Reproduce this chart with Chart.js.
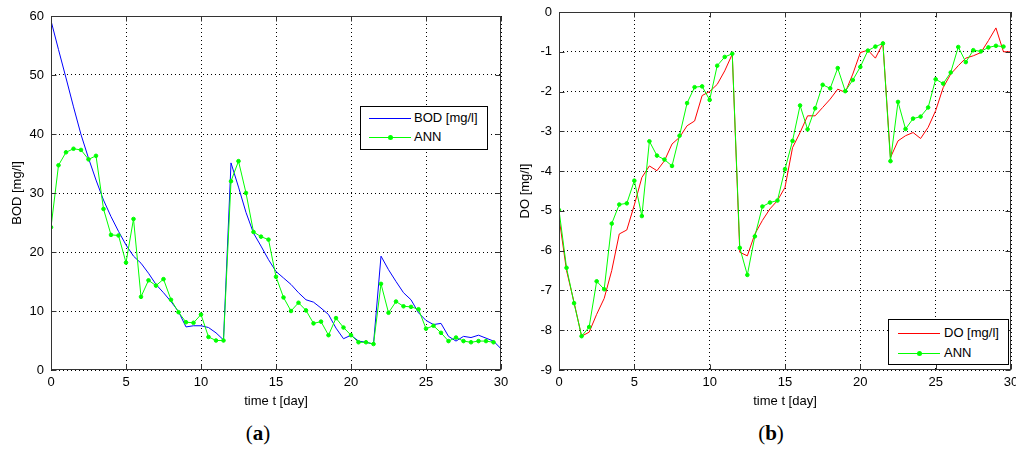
<!DOCTYPE html>
<html>
<head>
<meta charset="utf-8">
<script src="https://cdn.jsdelivr.net/npm/chart.js@4.4.1/dist/chart.umd.min.js"></script>
<style>
    body { margin: 0; background: #fff; }
    #wrap { position: relative; width: 1016px; height: 450px; overflow: hidden; background: #fff; }
    canvas { position: absolute; top: 0; }
    .legend { position: absolute; border: 1px solid #000; background: #fff; box-sizing: border-box;
              font: 13px 'Liberation Sans Narrow', 'Liberation Sans', Arial, sans-serif; color: #000; }
    .legend .row { position: absolute; left: 0; height: 16px; line-height: 16px; white-space: nowrap; }
    .legend .swatch { position: absolute; top: 8px; width: 42px; height: 1px; }
    .legend .dot { position: absolute; left: 19px; top: -2px; width: 5px; height: 5px; border-radius: 50%; }
    .caption { position: absolute; top: 421px; width: 60px; text-align: center;
               font: 21px 'Liberation Serif', 'DejaVu Serif', serif; color: #000; }
</style>
</head>
<body>
<div id="wrap">
    <canvas id="bod" width="508" height="412" style="left:0"></canvas>
    <canvas id="do" width="508" height="412" style="left:508px"></canvas>
    <div class="caption" style="left:228px">(<b>a</b>)</div>
    <div class="caption" style="left:741px">(<b>b</b>)</div>
</div>
<script>
// time grid, every half day
const days = [0, 0.5, 1, 1.5, 2, 2.5, 3, 3.5, 4, 4.5, 5, 5.5, 6, 6.5, 7, 7.5, 8, 8.5, 9, 9.5,
              10, 10.5, 11, 11.5, 12, 12.5, 13, 13.5, 14, 14.5, 15, 15.5, 16, 16.5, 17, 17.5, 18, 18.5, 19, 19.5,
              20, 20.5, 21, 21.5, 22, 22.5, 23, 23.5, 24, 24.5, 25, 25.5, 26, 26.5, 27, 27.5, 28, 28.5, 29, 29.5, 30]
// ANN output stops at 29.5
const annDays = days.slice(0, 60)

// (a) BOD model vs ANN
const bod = [59.2, 54.3, 49.5, 44.6, 39.9, 35.9, 32.2, 28.8, 26.0, 23.5,
             21.2, 19.3, 18.1, 16.4, 14.5, 13.1, 11.6, 9.9, 7.3, 7.5,
             7.5, 7.2, 6.3, 5.1, 35.1, 31.0, 26.7, 23.2, 21.0, 18.7,
             16.7, 15.6, 14.5, 13.1, 11.9, 11.5, 10.5, 9.4, 7.1, 5.3,
             5.9, 4.9, 4.7, 4.4, 19.3, 17.0, 15.0, 13.1, 11.9, 9.7,
             8.4, 7.7, 7.9, 5.7, 4.9, 5.7, 5.5, 5.9, 5.4, 4.9, 3.6]
const bodAnn = [24.2, 34.7, 36.9, 37.5, 37.3, 35.7, 36.3, 27.3, 22.9, 22.8,
                18.2, 25.6, 12.4, 15.2, 14.3, 15.4, 11.9, 9.8, 8.1, 8.0,
                9.4, 5.6, 5.0, 5.0, 32.0, 35.4, 30.0, 23.4, 22.6, 22.1,
                15.8, 12.3, 10.0, 11.4, 10.1, 7.9, 8.2, 5.9, 8.8, 7.2,
                5.9, 4.7, 4.7, 4.4, 14.6, 9.7, 11.6, 10.8, 10.7, 10.3,
                7.0, 7.5, 6.3, 4.9, 5.5, 4.9, 4.7, 4.9, 4.9, 4.7]

// (b) DO model vs ANN
const dox = [-5.16, -6.5, -7.3, -8.15, -8.05, -7.6, -7.2, -6.5, -5.58, -5.48,
             -4.85, -4.16, -3.87, -3.99, -3.74, -3.32, -3.15, -2.86, -2.74, -2.10,
             -2.0, -1.82, -1.48, -1.06, -6.04, -6.13, -5.58, -5.24, -4.95, -4.74,
             -4.41, -3.41, -3.03, -2.61, -2.61, -2.40, -2.19, -1.94, -2.02, -1.56,
             -1.02, -0.96, -1.16, -0.79, -3.66, -3.24, -3.11, -3.03, -3.18, -2.90,
             -2.48, -1.90, -1.56, -1.35, -1.16, -1.10, -1.02, -0.72, -0.40, -1.0, -1.0]
const doAnn = [-4.98, -6.43, -7.32, -8.15, -7.92, -6.77, -6.97, -5.32, -4.84, -4.81,
               -4.24, -5.13, -3.25, -3.61, -3.71, -3.87, -3.11, -2.29, -1.89, -1.87,
               -2.21, -1.35, -1.13, -1.05, -5.93, -6.61, -5.64, -4.89, -4.79, -4.74,
               -3.95, -3.24, -2.35, -2.95, -2.42, -1.83, -1.92, -1.41, -1.99, -1.71,
               -1.38, -0.97, -0.87, -0.79, -3.75, -2.26, -2.94, -2.68, -2.63, -2.40,
               -1.69, -1.80, -1.52, -0.88, -1.26, -0.96, -0.99, -0.89, -0.85, -0.87]

const xTicks = { min: 0, max: 30, step: 5 }
const bodTicks = { min: 0, max: 60, step: 10 }
const doTicks = { min: -9, max: 0, step: 1 }

const tickFont = { family: "'Liberation Sans Narrow', 'Liberation Sans', Arial, sans-serif", size: 13 }

/**
 * Matlab style box: frame on all four sides with ticks pointing inwards
 */
const framePlugin = {
    id: 'frame',
    afterDraw(chart) {
        const { ctx, chartArea: a, scales } = chart
        const len = 5
        const l = Math.round(a.left) + 0.5, r = Math.round(a.right) - 0.5
        const t = Math.round(a.top) + 0.5, b = Math.round(a.bottom) - 0.5

        ctx.save()
        ctx.strokeStyle = '#333'
        ctx.lineWidth = 1
        ctx.strokeRect(l, t, r - l, b - t)

        ctx.beginPath()
        scales.x.ticks.forEach(tk => {
            const px = Math.round(scales.x.getPixelForValue(tk.value)) + 0.5
            ctx.moveTo(px, b); ctx.lineTo(px, b - len)
            ctx.moveTo(px, t); ctx.lineTo(px, t + len)
        })
        scales.y.ticks.forEach(tk => {
            const py = Math.round(scales.y.getPixelForValue(tk.value)) + 0.5
            ctx.moveTo(l, py); ctx.lineTo(l + len, py)
            ctx.moveTo(r, py); ctx.lineTo(r - len, py)
        })
        ctx.stroke()
        ctx.restore()
    }
}

const series = (xs, ys) => xs.map((x, i) => ({ x: x, y: ys[i] }))

/**
 * Builds one panel
 * @param {string} id canvas id
 * @param {object} model {label, values, color}
 * @param {[number]} ann ANN values
 * @param {object} yRange {min, max, step}
 * @param {string} yTitle y axis title
 * @param {object} pad layout padding
 */
function makePanel(id, model, ann, yRange, yTitle, pad) {
    return new Chart(document.getElementById(id), {
        type: 'line',
        data: {
            datasets: [
                {
                    label: model.label, data: series(days, model.values), order: 1,
                    borderColor: model.color, borderWidth: 1, pointRadius: 0, tension: 0
                },
                {
                    label: 'ANN', data: series(annDays, ann), order: 0,
                    borderColor: '#00ff00', backgroundColor: '#00ff00', borderWidth: 1,
                    pointRadius: 1.8, pointBorderWidth: 1, pointStyle: 'circle', tension: 0
                }
            ]
        },
        options: {
            responsive: false,
            animation: false,
            layout: { padding: pad },
            plugins: { legend: { display: false }, tooltip: { enabled: false } },
            scales: {
                x: {
                    type: 'linear', min: xTicks.min, max: xTicks.max,
                    ticks: { stepSize: xTicks.step, color: '#000', font: tickFont, padding: 5, maxRotation: 0 },
                    grid: { color: '#000', drawTicks: false },
                    border: { display: false, dash: [1, 3] },
                    title: { display: true, text: 'time t [day]', color: '#000', font: tickFont, padding: { top: 0, bottom: 3 } },
                    // fixed axis box, let the last label run over the edge like the original
                    afterFit: s => { s.height = 42; s.paddingLeft = 0; s.paddingRight = 0 }
                },
                y: {
                    type: 'linear', min: yRange.min, max: yRange.max,
                    ticks: { stepSize: yRange.step, color: '#000', font: tickFont, padding: 7 },
                    grid: { color: '#000', drawTicks: false },
                    border: { display: false, dash: [1, 3] },
                    title: { display: true, text: yTitle, color: '#000', font: tickFont, padding: { top: 10, bottom: 0 } },
                    afterFit: s => { s.width = 51; s.paddingTop = 0; s.paddingBottom = 0 }
                }
            }
        },
        plugins: [framePlugin]
    })
}

/**
 * Legend box placed inside the plot like Matlab does
 */
function htmlLegend(chart, box) {
    const el = document.createElement('div')
    el.className = 'legend'
    Object.assign(el.style, { left: box.left + 'px', top: box.top + 'px', width: box.width + 'px', height: box.height + 'px' })

    chart.data.datasets.forEach((ds, i) => {
        const row = document.createElement('div')
        row.className = 'row'
        row.style.top = box.rows[i] + 'px'

        const sw = document.createElement('span')
        sw.className = 'swatch'
        sw.style.left = box.swatch + 'px'
        sw.style.backgroundColor = ds.borderColor
        if (ds.pointRadius > 0) {
            const dot = document.createElement('span')
            dot.className = 'dot'
            dot.style.backgroundColor = ds.backgroundColor
            sw.appendChild(dot)
        }
        const txt = document.createElement('span')
        txt.style.position = 'absolute'
        txt.style.left = box.text + 'px'
        txt.textContent = ds.label

        row.appendChild(sw)
        row.appendChild(txt)
        el.appendChild(row)
    })
    document.getElementById('wrap').appendChild(el)
}

const bodChart = makePanel('bod', { label: 'BOD [mg/l]', values: bod, color: '#0000ff' }, bodAnn,
                           bodTicks, 'BOD [mg/l]', { top: 16, right: 7, left: 0, bottom: 0 })
const doChart = makePanel('do', { label: 'DO [mg/l]', values: dox, color: '#ff0000' }, doAnn,
                          doTicks, 'DO [mg/l]', { top: 12, right: 2, left: 0, bottom: 0 })

htmlLegend(bodChart, { left: 360, top: 106, width: 128, height: 44, rows: [3, 22], swatch: 8, text: 53 })
htmlLegend(doChart, { left: 888, top: 319, width: 121, height: 46, rows: [5, 25], swatch: 9, text: 55 })
</script>
</body>
</html>
